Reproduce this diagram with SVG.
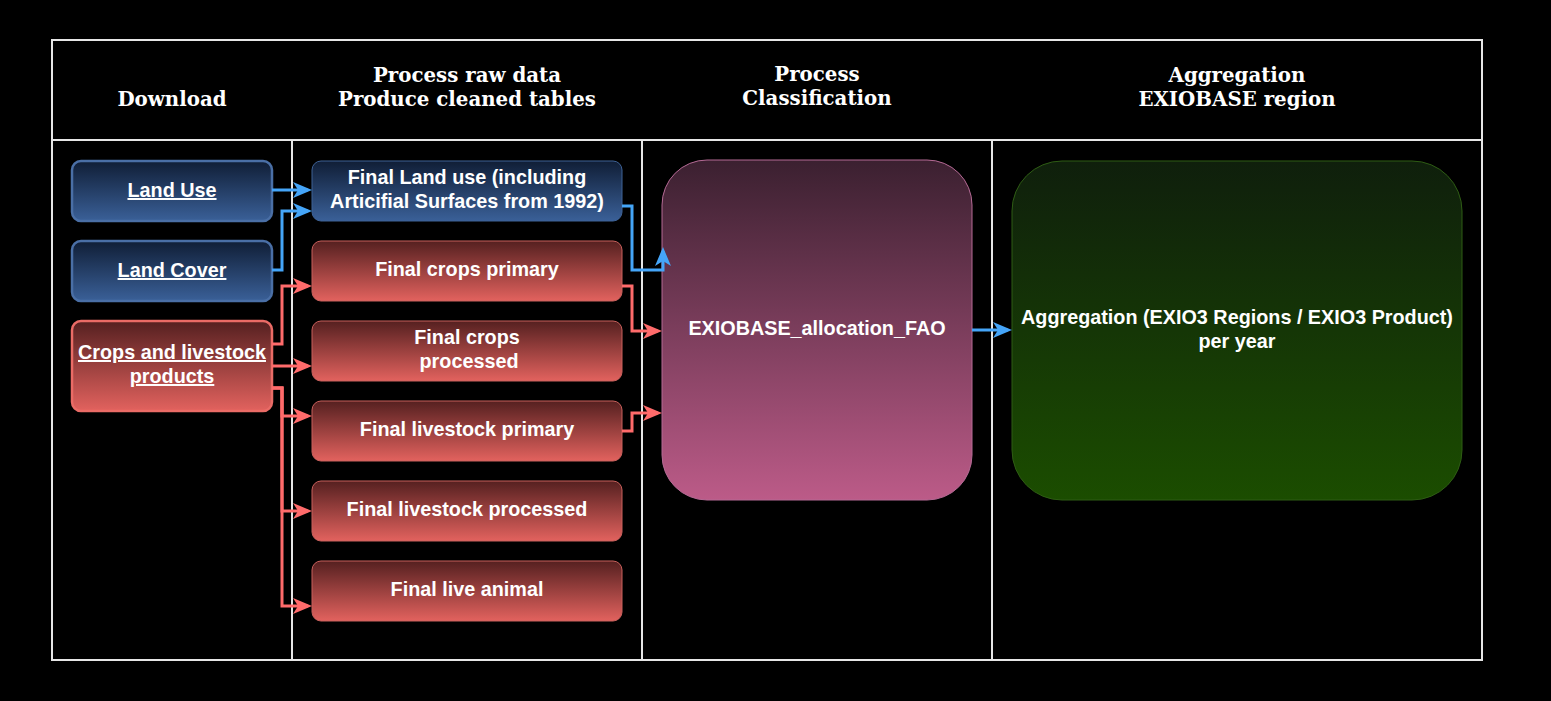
<svg xmlns="http://www.w3.org/2000/svg" width="1551" height="701" viewBox="0 0 1551 701">
<defs>
<linearGradient id="gBlue" x1="0" y1="0" x2="0" y2="1"><stop offset="0" stop-color="#101e36"/><stop offset="1" stop-color="#3a6098"/></linearGradient>
<linearGradient id="gRed" x1="0" y1="0" x2="0" y2="1"><stop offset="0" stop-color="#552020"/><stop offset="1" stop-color="#e2625e"/></linearGradient>
<linearGradient id="gPink" x1="0" y1="0" x2="0" y2="1"><stop offset="0" stop-color="#3b2030"/><stop offset="1" stop-color="#bc5b88"/></linearGradient>
<linearGradient id="gGreen" x1="0" y1="0" x2="0" y2="1"><stop offset="0" stop-color="#0f1f0c"/><stop offset="1" stop-color="#1b4d00"/></linearGradient>
<marker id="aBlue" viewBox="0 0 19 18" refX="15" refY="9" markerWidth="19" markerHeight="18" markerUnits="userSpaceOnUse" orient="auto"><path d="M0,1 L19,9 L0,17 L5,9 Z" fill="#45a5f8"/></marker>
<marker id="aRed" viewBox="0 0 19 18" refX="15" refY="9" markerWidth="19" markerHeight="18" markerUnits="userSpaceOnUse" orient="auto"><path d="M0,1 L19,9 L0,17 L5,9 Z" fill="#ff6b6b"/></marker>
<style>
.frame{fill:none;stroke:#e6e6e6;stroke-width:2}
.hdr{font-family:"DejaVu Serif",serif;font-weight:bold;font-size:19.8px;fill:#ffffff;text-anchor:middle}
.lbl{font-family:"Liberation Sans",Arial,sans-serif;font-weight:bold;font-size:19.8px;fill:#ffffff;text-anchor:middle}
.u{text-decoration:underline}
.bl{fill:url(#gBlue);stroke:#4a6fa6;stroke-width:2.5}
.bm{fill:url(#gBlue);stroke:#3e6296;stroke-width:1}
.rl{fill:url(#gRed);stroke:#ea6b66;stroke-width:2.5}
.rm{fill:url(#gRed);stroke:#c8605c;stroke-width:1}
.eb{fill:none;stroke-width:3;stroke-linejoin:miter}
.cb{stroke:#45a5f8;marker-end:url(#aBlue)}
.cr{stroke:#ff6b6b;marker-end:url(#aRed)}
</style>
</defs>
<rect x="0" y="0" width="1551" height="701" fill="#000000"/>
<g id="frame">
<rect class="frame" x="52" y="40" width="1430" height="620"/>
<line class="frame" x1="52" y1="140" x2="1482" y2="140"/>
<line class="frame" x1="292" y1="140" x2="292" y2="660"/>
<line class="frame" x1="642" y1="140" x2="642" y2="660"/>
<line class="frame" x1="992" y1="140" x2="992" y2="660"/>
<text class="hdr" x="172" y="106">Download</text>
<text class="hdr" x="467" y="82">Process raw data</text>
<text class="hdr" x="467" y="106">Produce cleaned tables</text>
<text class="hdr" x="817" y="81">Process</text>
<text class="hdr" x="817" y="105">Classification</text>
<text class="hdr" x="1237" y="82">Aggregation</text>
<text class="hdr" x="1237" y="106">EXIOBASE region</text>
</g>
<g id="land-use"><rect class="bl" x="72" y="161" width="200" height="60" rx="9"/><text class="lbl u" x="172" y="197">Land Use</text></g>
<g id="land-cover"><rect class="bl" x="72" y="241" width="200" height="60" rx="9"/><text class="lbl u" x="172" y="277">Land Cover</text></g>
<g id="crops-livestock"><rect class="rl" x="72" y="321" width="200" height="90" rx="9"/><text class="lbl u" x="172" y="359">Crops and livestock</text><text class="lbl u" x="172" y="383">products</text></g>
<g id="final-land-use"><rect class="bm" x="312" y="161" width="310" height="60" rx="9"/><text class="lbl" x="467" y="184">Final Land use (including</text><text class="lbl" x="467" y="208">Articifial Surfaces from 1992)</text></g>
<g id="final-crops-primary"><rect class="rm" x="312" y="241" width="310" height="60" rx="9"/><text class="lbl" x="467" y="276">Final crops primary</text></g>
<g id="final-crops-processed"><rect class="rm" x="312" y="321" width="310" height="60" rx="9"/><text class="lbl" x="467" y="344">Final crops</text><text class="lbl" x="469" y="368">processed</text></g>
<g id="final-livestock-primary"><rect class="rm" x="312" y="401" width="310" height="60" rx="9"/><text class="lbl" x="467" y="436">Final livestock primary</text></g>
<g id="final-livestock-processed"><rect class="rm" x="312" y="481" width="310" height="60" rx="9"/><text class="lbl" x="467" y="516">Final livestock processed</text></g>
<g id="final-live-animal"><rect class="rm" x="312" y="561" width="310" height="60" rx="9"/><text class="lbl" x="467" y="596">Final live animal</text></g>
<g id="exiobase-allocation"><rect x="662" y="160" width="310" height="340" rx="45" fill="url(#gPink)" stroke="#b56a95" stroke-width="1"/><text class="lbl" x="817" y="335">EXIOBASE_allocation_FAO</text></g>
<g id="aggregation"><rect x="1012" y="161" width="450" height="339" rx="50" fill="url(#gGreen)" stroke="#2e5c14" stroke-width="1"/><text class="lbl" x="1237" y="324">Aggregation (EXIO3 Regions / EXIO3 Product)</text><text class="lbl" x="1237" y="348">per year</text></g>
<g id="connectors">
<path class="eb cb" d="M272,190 H308"/>
<path class="eb cb" d="M272,270 H282 V211 H308"/>
<path class="eb cb" d="M622,206 H632 V270 H663 V251"/>
<path class="eb cr" d="M622,286 H632 V331 H658"/>
<path class="eb cr" d="M622,431 H632 V413 H658"/>
<path class="eb cb" d="M972,330 H1008"/>
<path class="eb cr" d="M272,344 H282 V286 H308"/>
<path class="eb cr" d="M272,366 H308"/>
<path class="eb cr" d="M272,388 H282 V416 H308"/>
<path class="eb cr" d="M272,388 H282 V511 H308"/>
<path class="eb cr" d="M272,388 H282 V606 H308"/>
</g>
</svg>
